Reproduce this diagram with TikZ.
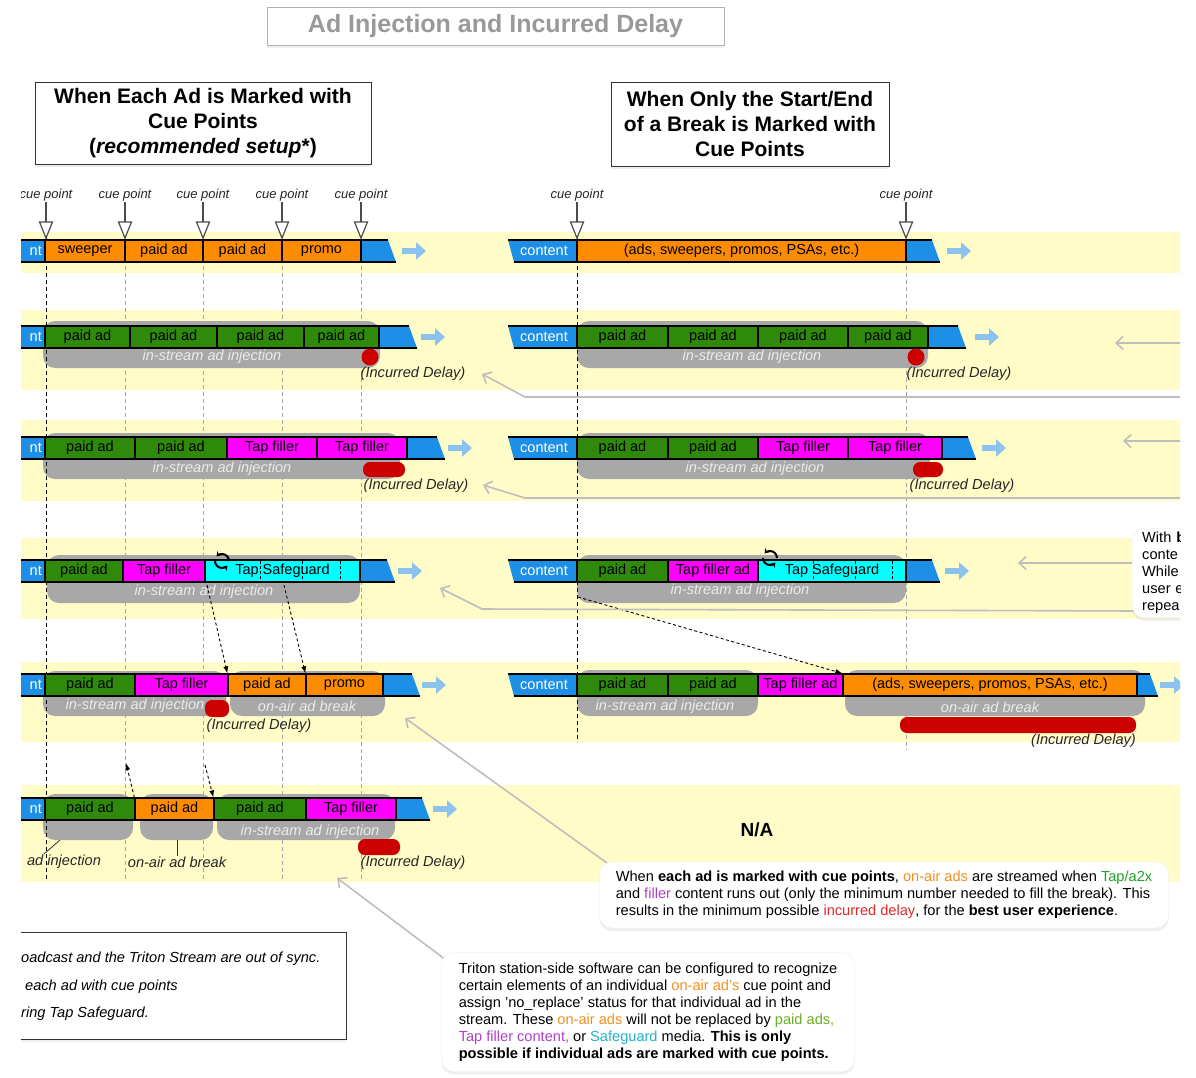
\documentclass[tikz,border=0pt]{standalone}
\usepackage{fontspec}
\setmainfont{Liberation Sans}
\usetikzlibrary{arrows.meta,shadows,calc}

\definecolor{bandyellow}{HTML}{FFFCC8}
\definecolor{streamblue}{HTML}{1E8FE6}
\definecolor{onair}{HTML}{FF8C00}
\definecolor{paidgreen}{HTML}{2F8A0C}
\definecolor{tapmag}{HTML}{FF00FF}
\definecolor{safecyan}{HTML}{00FFFF}
\definecolor{injgray}{HTML}{A8A8A8}
\definecolor{delayred}{HTML}{CC0000}
\definecolor{flowblue}{HTML}{8CC2EE}
\definecolor{calloutgray}{HTML}{BEBEBE}
\definecolor{onairtxt}{HTML}{F39020}
\definecolor{tapgreen}{HTML}{22A02A}
\definecolor{fillertxt}{HTML}{B040C8}
\definecolor{redtxt}{HTML}{E02828}
\definecolor{paidtxt}{HTML}{6AAE22}
\definecolor{safetxt}{HTML}{20B4C8}

\begin{document}
\begin{tikzpicture}[x=1pt,y=-1pt,
    seg/.style={draw=black,line width=1.2pt,minimum height=22pt,inner sep=0pt,font=\fontsize{14.5}{16}\selectfont},
    barline/.style={black,line width=1.6pt},
    headtxt/.style={text=white,font=\fontsize{14.5}{16}\selectfont,inner sep=0pt},
    cuelabel/.style={font=\itshape\fontsize{13}{15}\selectfont,text=black!85,inner sep=1pt},
    cuestem/.style={draw=black!70,line width=1.2pt},
    cuetip/.style={draw=black!70,fill=white,line width=1.2pt},
    cuedark/.style={black,line width=.8pt,dash pattern=on 4pt off 3pt},
    cuegray/.style={black!35,line width=.7pt,dash pattern=on 4pt off 3pt},
    flowarrow/.style={flowblue,line width=6pt,-{Triangle[length=10pt,width=17pt]}},
    injtxt/.style={text=white!92!black,font=\itshape\fontsize{14.6}{16}\selectfont,inner sep=0pt},
    delaynote/.style={text=black!85,font=\itshape\fontsize{14.6}{16}\selectfont,inner sep=0pt},
    dasharrow/.style={black,line width=.9pt,dash pattern=on 3pt off 2.5pt,-{Latex[length=7pt,width=5pt]}},
    callout/.style={calloutgray,line width=1.6pt,-{Straight Barb[length=7pt,width=13pt]}},
    infobox/.style={draw=black!8,fill=white,rounded corners=12pt,align=left,
        font=\fontsize{14.6}{17}\selectfont,drop shadow={opacity=.12,shadow xshift=0pt,shadow yshift=-3pt}},
    headbox/.style={draw=black!80,line width=.9pt,fill=white,align=center,
        font=\bfseries\fontsize{21}{25}\selectfont,drop shadow={opacity=.15,shadow xshift=0pt,shadow yshift=-3pt}},
    titlebox/.style={draw=black!30,line width=1pt,fill=white,minimum width=457,minimum height=38,
        text=black!40,font=\bfseries\fontsize{25}{28}\selectfont,drop shadow={opacity=.12,shadow xshift=0pt,shadow yshift=-3pt}},
    synctxt/.style={font=\itshape\fontsize{14.6}{16}\selectfont,inner sep=0pt}]
\useasboundingbox (0,0) rectangle (1196,1077);
\fill[white] (0,0) rectangle (1196,1077);

% title and headings
\node[titlebox] (title) at (495.5,26) {Ad Injection and Incurred Delay};
\node[headbox,minimum width=336,minimum height=82] (headL) at (203,123) {When Each Ad is Marked with\\Cue Points\\(\textit{recommended setup}*)};
\node[headbox,minimum width=278,minimum height=84] (headR) at (750,124) {When Only the Start/End\\of a Break is Marked with\\Cue Points};

\begin{scope}
\clip (21,0) rectangle (1180,1077);

% yellow bands
\foreach \tp/\bt in {232/273,310/390,420/501,538/619,662/742,785/882}
  \fill[bandyellow] (21,\tp) rectangle (1180,\bt);

% cue point labels
\foreach \i/\x in {1/46,2/125,3/203,4/282,5/361,6/577,7/906} {
  \node[cuelabel] (cp\i) at (\x,195) {cue point};
  \coordinate (tip\i) at (\x,238);
}

% gray injection / on-air areas
\foreach \a/\tp/\b/\bt in {43/321/380/368,43/433/400/479,47/555/360/603,43/671/226/716,230/671/385/716,
    43/794/133/840,140/794/213/840,217/794/395/840,577/321/928/368,577/433/930/479,
    577/555/906/603,577/670/758/716,845/670/1145/716}
  \fill[injgray,rounded corners=12pt] (\a,\tp) rectangle (\b,\bt);

% dashed cue lines
\draw[cuedark] (tip1) -- ++(0,642);
\foreach \i in {2,...,5} \draw[cuegray] (tip\i) -- ++(0,642);
\draw[cuedark] (tip6) -- ++(0,504);
\draw[cuegray] (tip7) -- ++(0,512);

% stream heads
\foreach \i/\y in {1/251,2/337,3/448,4/571,5/685,6/809} {
  \fill[streamblue] (15,\y-11) rectangle (45,\y+11);
  \draw[barline] (15,\y-11) -- (45,\y-11) (15,\y+11) -- (45,\y+11);
  \node[headtxt,anchor=east] (Lh\i) at (42,\y) {nt};
}
\foreach \i/\y in {1/251,2/337,3/448,4/571,5/685} {
  \fill[streamblue] (508,\y-11) -- (577,\y-11) -- (577,\y+11) -- (514,\y+11) -- cycle;
  \draw[barline] (508,\y-11) -- (577,\y-11) (514,\y+11) -- (577,\y+11);
  \node[headtxt] (Rh\i) at (544,\y) {content};
}

% stream tails
\foreach \a/\b/\y in {361/388/251,379/409/337,407/437/448,360/387/571,383/412/685,396/422/809,
    906/932/251,928/958/337,942/968/448,906/932/571,1137/1150/685} {
  \fill[streamblue] (\a,\y-11) -- (\b,\y-11) -- (\b+8,\y+11) -- (\a,\y+11) -- cycle;
  \draw[barline] (\a,\y-11) -- (\b,\y-11) (\a,\y+11) -- (\b+8,\y+11);
}

% flow arrows
\foreach \a/\y in {402/251,421/337,448/448,398/571,422/685,433/809,947/251,975/337,982/448,945/571,1160/685}
  \draw[flowarrow] (\a,\y) -- ++(24,0);

% segments, each ad marked
\foreach \nm/\cx/\sw/\fc/\lb in {L1a/85/80/onair/sweeper,L1b/164/78/onair/paid ad,L1c/242.5/79/onair/paid ad,L1d/321.5/79/onair/promo}
  \node[seg,fill=\fc,minimum width=\sw] (\nm) at (\cx,251) {\lb};
\foreach \nm/\cx/\sw/\fc/\lb in {L2a/87.5/85/paidgreen/paid ad,L2b/173.5/87/paidgreen/paid ad,L2c/260.5/87/paidgreen/paid ad,L2d/341.5/75/paidgreen/paid ad}
  \node[seg,fill=\fc,minimum width=\sw] (\nm) at (\cx,337) {\lb};
\foreach \nm/\cx/\sw/\fc/\lb in {L3a/90/90/paidgreen/paid ad,L3b/181/92/paidgreen/paid ad,L3c/272/90/tapmag/Tap filler,L3d/362/90/tapmag/Tap filler}
  \node[seg,fill=\fc,minimum width=\sw] (\nm) at (\cx,448) {\lb};
\foreach \nm/\cx/\sw/\fc/\lb in {L4a/84/78/paidgreen/paid ad,L4b/164/82/tapmag/Tap filler,L4c/282.5/155/safecyan/Tap Safeguard}
  \node[seg,fill=\fc,minimum width=\sw] (\nm) at (\cx,571) {\lb};
\foreach \nm/\cx/\sw/\fc/\lb in {L5a/90/90/paidgreen/paid ad,L5b/181.5/93/tapmag/Tap filler,L5c/267/78/onair/paid ad,L5d/344.5/77/onair/promo}
  \node[seg,fill=\fc,minimum width=\sw] (\nm) at (\cx,685) {\lb};
\foreach \nm/\cx/\sw/\fc/\lb in {L6a/90/90/paidgreen/paid ad,L6b/174.5/79/onair/paid ad,L6c/260/92/paidgreen/paid ad,L6d/351/90/tapmag/Tap filler}
  \node[seg,fill=\fc,minimum width=\sw] (\nm) at (\cx,809) {\lb};

% segments, only break marked
\node[seg,fill=onair,minimum width=329] (R1a) at (741.5,251) {(ads, sweepers, promos, PSAs, etc.)};
\foreach \nm/\cx/\sw/\fc/\lb in {R2a/622.5/91/paidgreen/paid ad,R2b/713/90/paidgreen/paid ad,R2c/803/90/paidgreen/paid ad,R2d/888/80/paidgreen/paid ad}
  \node[seg,fill=\fc,minimum width=\sw] (\nm) at (\cx,337) {\lb};
\foreach \nm/\cx/\sw/\fc/\lb in {R3a/622.5/91/paidgreen/paid ad,R3b/713/90/paidgreen/paid ad,R3c/803/90/tapmag/Tap filler,R3d/895/94/tapmag/Tap filler}
  \node[seg,fill=\fc,minimum width=\sw] (\nm) at (\cx,448) {\lb};
\foreach \nm/\cx/\sw/\fc/\lb in {R4a/622.5/91/paidgreen/paid ad,R4b/713/90/tapmag/Tap filler ad,R4c/832/148/safecyan/Tap Safeguard}
  \node[seg,fill=\fc,minimum width=\sw] (\nm) at (\cx,571) {\lb};
\foreach \nm/\cx/\sw/\fc/\lb in {R5a/622.5/91/paidgreen/paid ad,R5b/713/90/paidgreen/paid ad,R5c/800.5/85/tapmag/Tap filler ad}
  \node[seg,fill=\fc,minimum width=\sw] (\nm) at (\cx,685) {\lb};
\node[seg,fill=onair,minimum width=294] (R5d) at (990,685) {(ads, sweepers, promos, PSAs, etc.)};

% cue stems and open tips
\foreach \i/\x in {1/46,2/125,3/203,4/282,5/361,6/577,7/906} {
  \draw[cuestem] (cp\i.south) -- (\x,222);
  \draw[cuetip] (\x-6.5,222) -- (\x+6.5,222) -- (tip\i) -- cycle;
}

% safeguard ticks and repeat icons
\foreach \x in {260,302,340,813,855,892}
  \draw[black,line width=.8pt,dash pattern=on 3pt off 2pt] (\x,561) -- (\x,581);
\foreach \x/\y in {222/561,770/558} {
  \draw[line width=2pt,-{Stealth[length=4.5pt,width=6pt]}] (\x+7,\y) arc[start angle=0,end angle=140,radius=7pt];
  \draw[line width=2pt,-{Stealth[length=4.5pt,width=6pt]}] (\x-7,\y) arc[start angle=180,end angle=320,radius=7pt];
}

% area labels
\node[injtxt] (gL2) at (212,357) {in-stream ad injection};
\node[injtxt] (gL3) at (222,469) {in-stream ad injection};
\node[injtxt] (gL4) at (204,592) {in-stream ad injection};
\node[injtxt] (gL5a) at (135,706) {in-stream ad injection};
\node[injtxt] (gL5b) at (307,706) {on-air ad break};
\node[injtxt] (gL6) at (310,832) {in-stream ad injection};
\node[injtxt] (gR2) at (752,357) {in-stream ad injection};
\node[injtxt] (gR3) at (755,469) {in-stream ad injection};
\node[injtxt] (gR4) at (740,591) {in-stream ad injection};
\node[injtxt] (gR5a) at (665,707) {in-stream ad injection};
\node[injtxt] (gR5b) at (990,707) {on-air ad break};

% incurred delay
\fill[delayred] (370,357) circle (8.5pt);
\fill[delayred] (916,357) circle (8.5pt);
\fill[delayred,rounded corners=7pt] (363,462) rectangle (405,477);
\fill[delayred,rounded corners=7pt] (913,462) rectangle (943,477);
\fill[delayred,rounded corners=7pt] (205,700) rectangle (229,717);
\fill[delayred,rounded corners=7pt] (900,717) rectangle (1136,733);
\fill[delayred,rounded corners=7pt] (358,839) rectangle (400,855);
\node[delaynote] (dL2) at (413,374) {(Incurred Delay)};
\node[delaynote] (dR2) at (959,374) {(Incurred Delay)};
\node[delaynote] (dL3) at (416,486) {(Incurred Delay)};
\node[delaynote] (dR3) at (962,486) {(Incurred Delay)};
\node[delaynote] (dL5) at (259,726) {(Incurred Delay)};
\node[delaynote,anchor=east] (dR5) at (1136,741) {(Incurred Delay)};
\node[delaynote] (dL6) at (413,863) {(Incurred Delay)};

% labels under row 6
\node[delaynote] (lbA) at (64,862) {ad injection};
\node[delaynote] (lbB) at (177,862) {on-air ad break};
\draw[black!80,line width=.8pt] (60,840) -- (44,854);
\draw[black!80,line width=.8pt] (177,840) -- (lbB.north);

% moved ads
\coordinate (sg1) at (207,585);
\coordinate (sg2) at (284,585);
\coordinate (sg3) at (126,763);
\coordinate (sg4) at (205,765);
\coordinate (sg5) at (578,597);
\draw[dasharrow] (sg1) -- (L5c.north west);
\draw[dasharrow] (sg2) -- (L5d.north west);
\draw[dasharrow] (L6b.north west) -- (sg3);
\draw[dasharrow] (sg4) -- (L6c.north west);
\draw[dasharrow] (sg5) -- (R5d.north west);

\node[font=\bfseries\fontsize{19}{22}\selectfont] (na) at (757,830) {N/A};

% callout leaders
\coordinate (c1s) at (1196,343); \coordinate (c1e) at (1115,343);
\coordinate (c2s) at (1196,397); \coordinate (c2m) at (525,397); \coordinate (c2e) at (482,374);
\coordinate (c3s) at (1196,441); \coordinate (c3e) at (1123,441);
\coordinate (c4s) at (1196,498); \coordinate (c4m) at (525,498); \coordinate (c4e) at (483,485);
\coordinate (c5s) at (1140,563); \coordinate (c5e) at (1018,563);
\coordinate (c6s) at (1140,611); \coordinate (c6m) at (482,609); \coordinate (c6e) at (440,588);
\coordinate (c7s) at (614,868); \coordinate (c7e) at (405,718);
\coordinate (c8s) at (450,963); \coordinate (c8e) at (337,878);
\draw[callout] (c1s) -- (c1e);
\draw[callout] (c2s) -- (c2m) -- (c2e);
\draw[callout] (c3s) -- (c3e);
\draw[callout] (c4s) -- (c4m) -- (c4e);
\draw[callout] (c5s) -- (c5e);
\draw[callout] (c6s) -- (c6m) -- (c6e);
\draw[callout] (c7s) -- (c7e);
\draw[callout] (c8s) -- (c8e);

% notes
\node[draw=black!80,line width=.9pt,fill=white,anchor=north west,minimum width=346,minimum height=107,
    drop shadow={opacity=.12,shadow xshift=0pt,shadow yshift=-3pt}] (syncbox) at (0,932) {};
\node[synctxt,anchor=west] (s1) at (21,959) {oadcast and the Triton Stream are out of sync.};
\node[synctxt,anchor=west] (s2) at (25,987) {each ad with cue points};
\node[synctxt,anchor=west] (s3) at (21,1014) {ring Tap Safeguard.};

\node[infobox,minimum width=569,minimum height=66,inner xsep=8pt] (callA) at (884,895)
  {When \textbf{each ad is marked with cue points}, \textcolor{onairtxt}{on-air ads} are streamed when \textcolor{tapgreen}{Tap/a2x}\\
   and \textcolor{fillertxt}{filler} content runs out (only the minimum number needed to fill the break). This\\
   results in the minimum possible \textcolor{redtxt}{incurred delay}, for the \textbf{best user experience}.};
\node[infobox,minimum width=413,minimum height=119,inner xsep=8pt] (callB) at (648,1012)
  {Triton station-side software can be configured to recognize\\
   certain elements of an individual \textcolor{onairtxt}{on-air ad's} cue point and\\
   assign 'no\_replace' status for that individual ad in the\\
   stream. These \textcolor{onairtxt}{on-air ads} will not be replaced by \textcolor{paidtxt}{paid ads,}\\
   \textcolor{fillertxt}{Tap filler content,} or \textcolor{safetxt}{Safeguard} media. \textbf{This is only}\\
   \textbf{possible if individual ads are marked with cue points.}};
\node[infobox,anchor=north west,text width=70pt,inner xsep=10pt,inner ysep=4pt] (wbox) at (1132,528)
  {With \textbf{b}\\conte\\While\\user e\\repea};
\end{scope}
\end{tikzpicture}
\end{document}
